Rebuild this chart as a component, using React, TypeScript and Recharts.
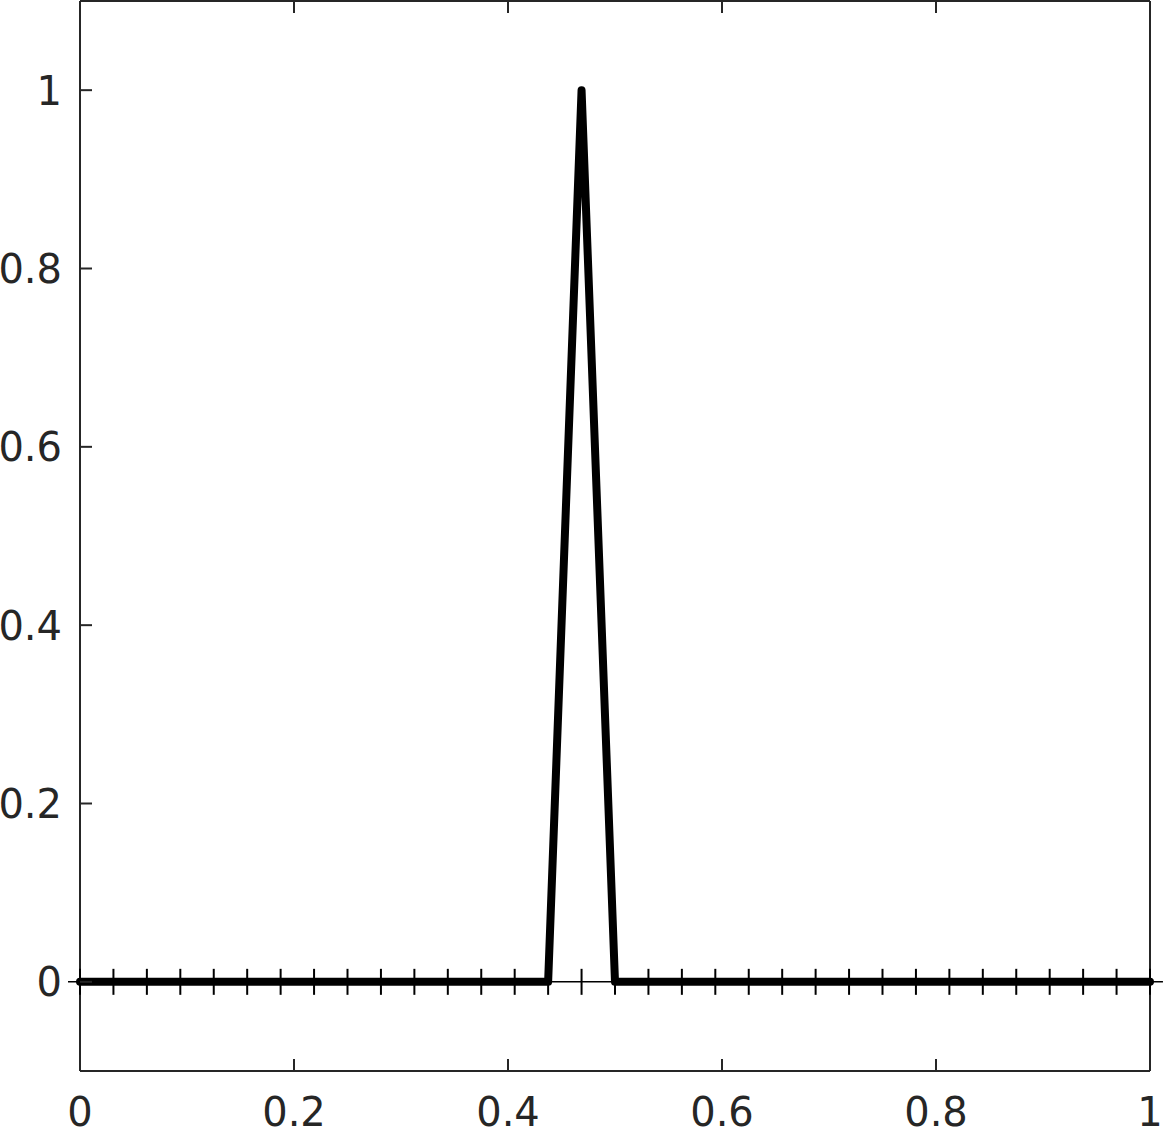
import { ComposedChart, Line, Scatter, XAxis, YAxis, ReferenceLine } from 'recharts'

// mesh nodes (k/32) and the hat basis function value at each node
const meshNodes = [
  0, 0.03125, 0.0625, 0.09375, 0.125, 0.15625, 0.1875, 0.21875, 0.25, 0.28125, 0.3125,
  0.34375, 0.375, 0.40625, 0.4375, 0.46875, 0.5, 0.53125, 0.5625, 0.59375, 0.625,
  0.65625, 0.6875, 0.71875, 0.75, 0.78125, 0.8125, 0.84375, 0.875, 0.90625, 0.9375,
  0.96875, 1,
]
const hatValues = [
  0, 0, 0, 0, 0, 0, 0, 0, 0, 0, 0, 0, 0, 0, 0, 1, 0, 0, 0, 0, 0, 0, 0, 0, 0, 0, 0, 0, 0, 0,
  0, 0, 0,
]
// thin mesh line runs slightly past the box on both sides
const meshLineEnds = [-0.0112, 1.0121]

const xTicks = [0, 0.2, 0.4, 0.6, 0.8, 1]
const yTicks = [0, 0.2, 0.4, 0.6, 0.8, 1]

const data = meshNodes.map((x, i) => ({ x, y: hatValues[i], node: 0 }))

const AXIS = '#262626'
const FONT = '"DejaVu Sans", sans-serif'
const TICK_LEN = 12
const fmt = (v: number) => String(v)

function BottomTick({ x, y, payload }: any) {
  return (
    <g>
      <line x1={x} x2={x} y1={y} y2={y - TICK_LEN} stroke={AXIS} strokeWidth={2} />
      <text x={x} y={y + 55} textAnchor="middle" fontSize={40} fill={AXIS} fontFamily={FONT}>
        {fmt(payload.value)}
      </text>
    </g>
  )
}

function TopTick({ x, y }: any) {
  return <line x1={x} x2={x} y1={y} y2={y + TICK_LEN} stroke={AXIS} strokeWidth={2} />
}

function LeftTick({ x, y, payload }: any) {
  return (
    <g>
      <line x1={x} x2={x + TICK_LEN} y1={y} y2={y} stroke={AXIS} strokeWidth={2} />
      <text x={x - 18} y={y} dy="0.36em" textAnchor="end" fontSize={40} fill={AXIS} fontFamily={FONT}>
        {fmt(payload.value)}
      </text>
    </g>
  )
}

function RightTick({ x, y }: any) {
  return <line x1={x} x2={x - TICK_LEN} y1={y} y2={y} stroke={AXIS} strokeWidth={2} />
}

function NodeMark({ cx, cy }: any) {
  return <line x1={cx} x2={cx} y1={cy - 13} y2={cy + 13} stroke="#000" strokeWidth={2} />
}

export default function App() {
  return (
    <div style={{ position: 'absolute', left: 0, top: 0, background: '#fff' }}>
      <ComposedChart width={1164} height={1129} data={data} margin={{ top: 0, right: 13, left: 0, bottom: 0 }}>
        <XAxis
          dataKey="x"
          type="number"
          domain={[0, 1]}
          ticks={xTicks}
          interval={0}
          height={58}
          tickSize={0}
          tickMargin={0}
          tickLine={false}
          axisLine={{ stroke: AXIS, strokeWidth: 2 }}
          tick={<BottomTick />}
        />
        <XAxis
          xAxisId="top"
          orientation="top"
          dataKey="x"
          type="number"
          domain={[0, 1]}
          ticks={xTicks}
          interval={0}
          height={1}
          tickSize={0}
          tickMargin={0}
          tickLine={false}
          axisLine={{ stroke: AXIS, strokeWidth: 2 }}
          tick={<TopTick />}
        />
        <YAxis
          type="number"
          domain={[-0.1, 1.1]}
          ticks={yTicks}
          interval={0}
          width={80}
          tickSize={0}
          tickMargin={0}
          tickLine={false}
          axisLine={{ stroke: AXIS, strokeWidth: 2 }}
          tick={<LeftTick />}
        />
        <YAxis
          yAxisId="right"
          orientation="right"
          type="number"
          domain={[-0.1, 1.1]}
          ticks={yTicks}
          interval={0}
          width={1}
          tickSize={0}
          tickMargin={0}
          tickLine={false}
          axisLine={{ stroke: AXIS, strokeWidth: 2 }}
          tick={<RightTick />}
        />
        <ReferenceLine
          segment={[
            { x: meshLineEnds[0], y: 0 },
            { x: meshLineEnds[1], y: 0 },
          ]}
          ifOverflow="visible"
          stroke="#000"
          strokeWidth={1.5}
        />
        <Line
          dataKey="y"
          type="linear"
          stroke="#000"
          strokeWidth={8}
          strokeLinecap="round"
          strokeLinejoin="round"
          dot={false}
          activeDot={false}
          isAnimationActive={false}
        />
        <Scatter dataKey="node" shape={<NodeMark />} isAnimationActive={false} />
      </ComposedChart>
    </div>
  )
}
